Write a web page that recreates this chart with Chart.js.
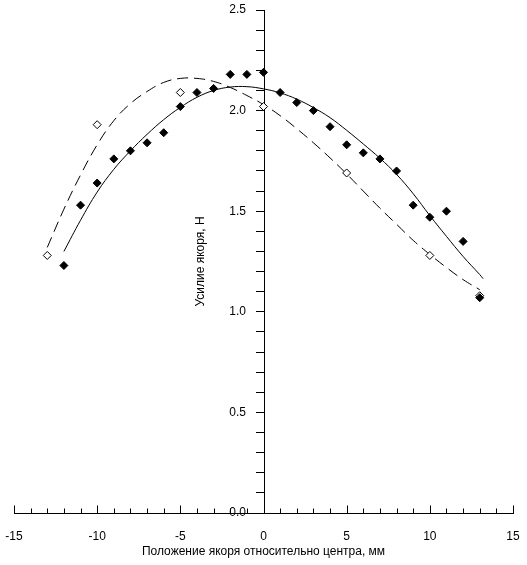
<!DOCTYPE html>
<html>
<head>
<meta charset="utf-8">
<script src="https://cdn.jsdelivr.net/npm/chart.js@4"></script>
<style>
  html, body { margin: 0; padding: 0; background: #fff; }
  #wrap { width: 527px; height: 565px; }
</style>
</head>
<body>
<div id="wrap"><canvas id="myChart" width="527" height="565"></canvas></div>
<script>
// измеренные точки (заполненные ромбы)
const xFilled = [-12, -11, -10, -9, -8, -7, -6, -5, -4, -3, -2, -1, 0, 1, 2, 3, 4, 5, 6, 7, 8, 9, 10, 11, 12, 13];
const yFilled = [1.23, 1.53, 1.64, 1.76, 1.80, 1.84, 1.89, 2.02, 2.09, 2.11, 2.18, 2.18, 2.19, 2.09, 2.04, 2.00, 1.92, 1.83, 1.79, 1.76, 1.70, 1.53, 1.47, 1.50, 1.35, 1.07];

// измеренные точки (пустые ромбы)
const xOpen = [-13, -10, -5, 0, 5, 10, 13];
const yOpen = [1.28, 1.93, 2.09, 2.02, 1.69, 1.28, 1.08];

// сплошная кривая
const xSolid = [-12, -11, -10, -9, -8, -7, -6, -5, -4, -3, -2, -1, 0, 1, 2, 3, 4, 5, 6, 7, 8, 9, 10, 11, 12, 13, 13.2];
const ySolid = [1.30, 1.455, 1.595, 1.708, 1.80, 1.882, 1.955, 2.016, 2.066, 2.10, 2.117, 2.119, 2.108, 2.088, 2.057, 2.015, 1.965, 1.902, 1.834, 1.763, 1.683, 1.587, 1.478, 1.375, 1.275, 1.185, 1.165];

// пунктирная кривая
const xDashed = [-13, -12, -11, -10, -9, -8, -7, -6, -5, -4, -3, -2, -1, 0, 1, 2, 3, 4, 5, 6, 7, 8, 9, 10, 11, 12, 13];
const yDashed = [1.32, 1.51, 1.68, 1.83, 1.95, 2.035, 2.095, 2.14, 2.16, 2.16, 2.145, 2.115, 2.075, 2.03, 1.975, 1.91, 1.84, 1.765, 1.685, 1.60, 1.515, 1.435, 1.355, 1.285, 1.22, 1.16, 1.11];

const xTitle = 'Положение якоря относительно центра, мм';
const yTitle = 'Усилие якоря, Н';

function toXY(xs, ys) {
    return xs.map((x, i) => ({ x: x, y: ys[i] }));
}

const fontMain = { family: 'Liberation Sans, Arial, sans-serif', size: 12 };

// ось Y переносим на x = 0 после раскладки
const moveY = {
    id: 'moveY',
    afterLayout(chart) {
        const sy = chart.scales.y;
        const px = Math.round(chart.scales.x.getPixelForValue(0));
        sy.left = 193;
        sy.right = px;
        sy.width = px - 193;
    }
};

// засечки оси X вверх от линии оси
const upTicks = {
    id: 'upTicks',
    afterDraw(chart) {
        const ctx = chart.ctx;
        const sx = chart.scales.x;
        const y0 = Math.round(chart.scales.y.getPixelForValue(0)) + 0.5;
        ctx.save();
        ctx.strokeStyle = '#000';
        ctx.lineWidth = 1;
        ctx.beginPath();
        sx.ticks.forEach(t => {
            const px = Math.round(sx.getPixelForValue(t.value)) + 0.5;
            const len = (Math.round(t.value) % 5 === 0) ? 8 : 5;
            ctx.moveTo(px, y0);
            ctx.lineTo(px, y0 - len);
        });
        ctx.stroke();
        ctx.restore();
    }
};

const data = {
    datasets: [{
        label: 'filled',
        data: toXY(xFilled, yFilled),
        showLine: false,
        pointStyle: 'rectRot',
        pointRadius: 4,
        pointBackgroundColor: '#000',
        pointBorderColor: '#000',
        pointBorderWidth: 1
    }, {
        label: 'open',
        data: toXY(xOpen, yOpen),
        showLine: false,
        pointStyle: 'rectRot',
        pointRadius: 4,
        pointBackgroundColor: '#fff',
        pointBorderColor: '#000',
        pointBorderWidth: 1
    }, {
        label: 'solid',
        data: toXY(xSolid, ySolid),
        showLine: true,
        pointRadius: 0,
        borderColor: '#000',
        borderWidth: 1,
        tension: 0.4
    }, {
        label: 'dashed',
        data: toXY(xDashed, yDashed),
        showLine: true,
        pointRadius: 0,
        borderColor: '#000',
        borderWidth: 1,
        borderDash: [11, 6],
        tension: 0.4
    }]
};

const config = {
    type: 'scatter',
    data,
    plugins: [moveY, upTicks],
    options: {
        responsive: false,
        animation: false,
        layout: { padding: { left: 14, right: 14, top: 10, bottom: 6 } },
        plugins: {
            legend: { display: false },
            tooltip: { enabled: false }
        },
        scales: {
            x: {
                type: 'linear',
                min: -15,
                max: 15,
                grid: { display: true, drawOnChartArea: false, drawTicks: false },
                border: { display: true, color: '#000', width: 1 },
                ticks: {
                    stepSize: 1,
                    autoSkip: false,
                    maxRotation: 0,
                    padding: 16,
                    color: '#000',
                    font: fontMain,
                    callback: v => (v % 5 === 0 ? String(v) : '')
                },
                title: { display: true, text: xTitle, color: '#000', font: fontMain, padding: { top: 0, bottom: 0 } },
                afterFit: s => { s.height = 46; s.paddingLeft = 0; s.paddingRight = 0; }
            },
            y: {
                type: 'linear',
                position: 'left',
                min: 0,
                max: 2.5,
                grid: { display: true, drawOnChartArea: false, tickLength: 8, color: '#000' },
                border: { display: true, color: '#000', width: 1 },
                ticks: {
                    stepSize: 0.1,
                    autoSkip: false,
                    padding: 10,
                    color: '#000',
                    font: fontMain,
                    callback: v => (Math.abs(v * 2 - Math.round(v * 2)) < 1e-6 ? v.toFixed(1) : '')
                },
                title: { display: true, text: yTitle, color: '#000', font: fontMain, padding: { top: 0, bottom: 0 } },
                afterFit: s => { s.width = 0; s.paddingTop = 0; s.paddingBottom = 0; }
            }
        }
    }
};

let myChart = new Chart(document.getElementById('myChart'), config);
</script>
</body>
</html>
